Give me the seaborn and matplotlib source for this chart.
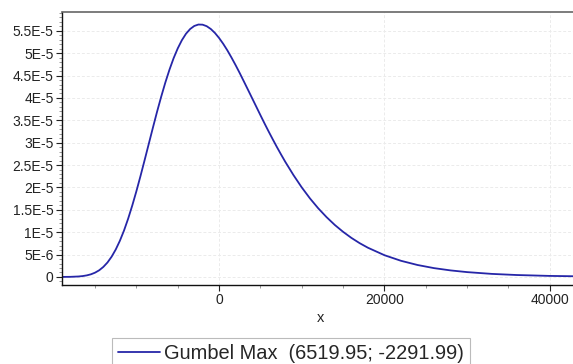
import matplotlib
matplotlib.use("Agg")
import matplotlib.pyplot as plt
import matplotlib.ticker as mticker
import seaborn as sns
import pandas as pd

# Values (Gumbel Max density)
x_vals = [-19000, -18000, -17000, -16500, -16000, -15500, -15000, -14500, -14000,
          -13500, -13000, -12500, -12000, -11500, -11000, -10500, -10000, -9500,
          -9000, -8500, -8000, -7500, -7000, -6500, -6000, -5500, -5000, -4500,
          -4000, -3500, -3000, -2500, -2000, -1500, -1000, -500, 0, 500, 1000,
          1500, 2000, 2500, 3000, 3500, 4000, 4500, 5000, 5500, 6000, 6500, 7000,
          7500, 8000, 9000, 10000, 11000, 12000, 13000, 14000, 15000, 16000,
          17000, 18000, 20000, 22000, 24000, 26000, 28000, 30000, 33000, 36000,
          40000, 43500]
y_vals = [0.005e-6, 0.025e-6, 0.105e-6, 0.197e-6, 0.35e-6, 0.59e-6, 0.96e-6, 1.49e-6, 2.24e-6,
          3.23e-6, 4.52e-6, 6.13e-6, 8.08e-6, 10.37e-6, 13.02e-6, 15.97e-6, 19.17e-6, 22.59e-6,
          26.15e-6, 29.77e-6, 33.39e-6, 36.93e-6, 40.29e-6, 43.45e-6, 46.32e-6, 48.88e-6, 51.07e-6, 52.90e-6,
          54.35e-6, 55.40e-6, 56.08e-6, 56.40e-6, 56.37e-6, 56.03e-6, 55.40e-6, 54.51e-6, 53.39e-6, 52.09e-6, 50.63e-6,
          49.02e-6, 47.32e-6, 45.54e-6, 43.68e-6, 41.81e-6, 39.92e-6, 38.04e-6, 36.15e-6, 34.29e-6, 32.48e-6, 30.72e-6, 29.00e-6,
          27.35e-6, 25.74e-6, 22.75e-6, 20.00e-6, 17.53e-6, 15.32e-6, 13.36e-6, 11.61e-6, 10.08e-6, 8.73e-6,
          7.55e-6, 6.53e-6, 4.86e-6, 3.61e-6, 2.67e-6, 1.97e-6, 1.46e-6, 1.08e-6, 0.68e-6, 0.43e-6,
          0.23e-6, 0.14e-6]
series_label = "Gumbel Max  (6519.95; -2291.99)"
x_label = "x"
y_tick_values = [0, 5e-6, 1e-5, 1.5e-5, 2e-5, 2.5e-5, 3e-5, 3.5e-5, 4e-5, 4.5e-5, 5e-5, 5.5e-5]
y_tick_labels = ["0", "5E-6", "1E-5", "1.5E-5", "2E-5", "2.5E-5", "3E-5", "3.5E-5",
                 "4E-5", "4.5E-5", "5E-5", "5.5E-5"]
x_tick_values = [0, 20000, 40000]
x_tick_labels = ["0", "20000", "40000"]

df = pd.DataFrame({"x": x_vals, "y": y_vals})

sns.set_style("white")
plt.rcParams["font.family"] = ["Liberation Sans", "DejaVu Sans"]

fig = plt.figure(figsize=(5.73, 3.64), dpi=100)
ax = fig.add_axes([62 / 573, 1 - 285 / 364, 1 - 62 / 573 + 0.01, (285 - 12) / 364])

sns.lineplot(data=df, x="x", y="y", ax=ax, color="#2626a8", linewidth=1.3,
             label=series_label, legend=False)

ax.set_xlim(-19000, 43500)
ax.set_ylim(-1.8e-6, 5.92e-5)

ax.set_yticks(y_tick_values)
ax.set_yticklabels(y_tick_labels)
ax.set_xticks(x_tick_values)
ax.set_xticklabels(x_tick_labels)
ax.yaxis.set_minor_locator(mticker.MultipleLocator(1e-6))
ax.xaxis.set_minor_locator(mticker.MultipleLocator(5000))

ax.tick_params(axis="both", which="major", direction="out", length=4, width=0.8,
               labelsize=10, colors="#222222", pad=2)
ax.tick_params(axis="both", which="minor", direction="out", length=2, width=0.6,
               colors="#888888")
ax.tick_params(axis="x", which="both", bottom=True)
ax.tick_params(axis="y", which="both", left=True)

ax.grid(True, which="major", color="#ebebeb", linestyle=(0, (3, 2)), linewidth=0.7)

for side in ["left", "bottom"]:
    ax.spines[side].set_color("#111111")
    ax.spines[side].set_linewidth(1.0)
ax.spines["top"].set_color("#666666")
ax.spines["top"].set_linewidth(1.2)
ax.spines["right"].set_visible(False)

ax.set_xlabel(x_label, fontsize=10.5, color="#222222", labelpad=3)
ax.set_ylabel("")

handles, labels = ax.get_legend_handles_labels()
leg = fig.legend(handles, labels, loc="upper left", bbox_to_anchor=(112 / 573, 1 - 338 / 364),
                 fontsize=14.4, frameon=True, fancybox=False, handlelength=2.1,
                 handletextpad=0.2, borderpad=0.3, borderaxespad=0)
leg.get_frame().set_edgecolor("#aaaaaa")
leg.get_frame().set_linewidth(0.8)

fig.savefig("out.png", dpi=100)
